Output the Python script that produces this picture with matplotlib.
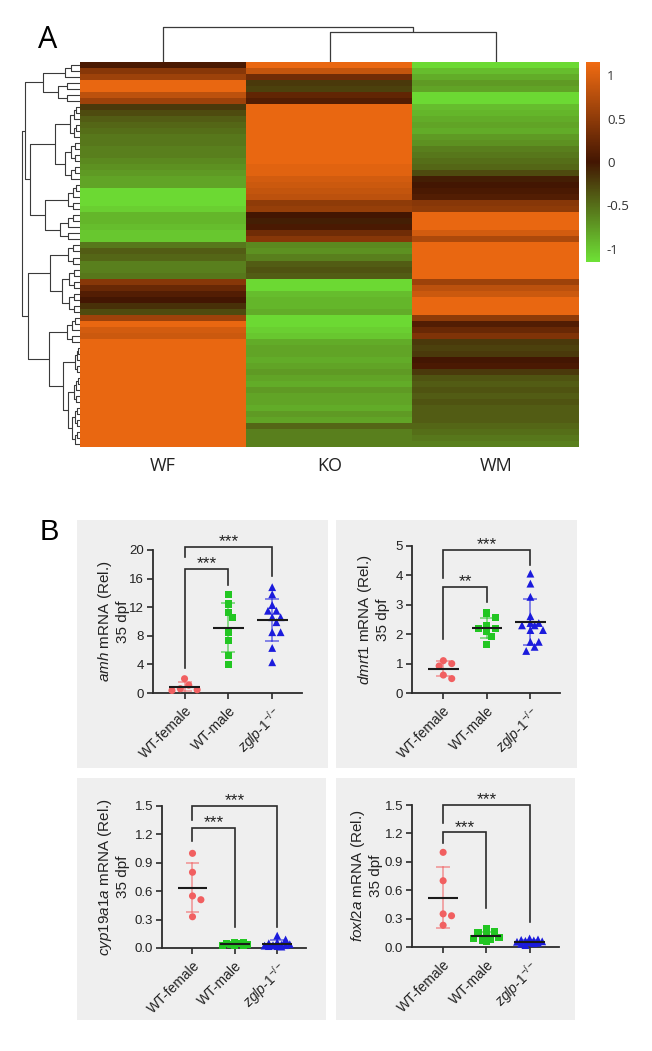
import numpy as np
import matplotlib
matplotlib.use("Agg")
import matplotlib.pyplot as plt
from matplotlib.colors import LinearSegmentedColormap
from matplotlib.patches import Rectangle

plt.rcParams['font.family'] = ['Liberation Sans', 'DejaVu Sans']
plt.rcParams['mathtext.fontset'] = 'custom'
plt.rcParams['mathtext.it'] = 'Liberation Sans:italic'
plt.rcParams['mathtext.rm'] = 'Liberation Sans'
plt.rcParams['axes.unicode_minus'] = False

W, H = 652, 1051

# ---------------- panel A : heatmap of scaled expression ----------------
samples = ["WF", "KO", "WM"]

wf = [0.05, 0.45, 0.6, 1.1, 1.1, 0.8, 0.6,
      -0.2, -0.3, -0.4, -0.45, -0.5, -0.55, -0.55, -0.6, -0.6, -0.65, -0.7, -0.75, -0.8,
      -0.8, -1.1, -1.1, -1.1, -1.05, -0.9, -0.9, -0.95, -1.0, -1.0,
      -0.55, -0.4, -0.45, -0.6, -0.6, -0.55,
      0.45, 0.25, 0.1, 0.0, -0.15, -0.3,
      0.6, 1.1, 0.95, 0.9,
      1.1, 1.1, 1.1, 1.1, 1.1, 1.1, 1.1, 1.1, 1.1, 1.1, 1.1, 1.1, 1.1, 1.1, 1.1, 1.1, 1.1, 1.1]
ko = [1.1, 0.85, 0.3, -0.2, -0.25, 0.2, 0.1,
      1.1, 1.1, 1.1, 1.1, 1.1, 1.1, 1.1, 1.1, 1.1, 1.1, 1.05, 1.05, 0.95,
      0.9, 0.85, 0.8, 0.5, 0.55, 0.0, -0.05, 0.05, 0.3, 0.45,
      -0.65, -0.7, -0.6, -0.4, -0.35, -0.4,
      -1.1, -1.1, -0.95, -0.9, -0.9, -0.85,
      -1.1, -1.1, -1.05, -1.0,
      -0.85, -0.8, -0.8, -0.85, -0.8, -0.75, -0.8, -0.85, -0.75, -0.8, -0.8, -0.85, -0.75, -0.8,
      -0.45, -0.6, -0.6, -0.6]
wm = [-1.1, -0.95, -0.85, -0.75, -0.8, -1.1, -1.1,
      -0.95, -0.9, -0.85, -0.8, -0.85, -0.75, -0.7, -0.6, -0.55, -0.5, -0.45, -0.3, -0.05,
      0.0, 0.05, 0.1, 0.45, 0.5, 1.1, 1.1, 1.1, 0.95, 0.7,
      1.1, 1.1, 1.1, 1.1, 1.1, 1.1,
      0.6, 0.8, 0.9, 1.1, 1.1, 1.1,
      0.5, 0.1, 0.25, 0.4,
      -0.2, -0.25, -0.2, 0.0, 0.05, -0.2, -0.35, -0.4, -0.35, -0.4, -0.35, -0.4, -0.4, -0.4,
      -0.45, -0.5, -0.55, -0.6]

cbar_ticks = [-1, -0.5, 0, 0.5, 1]
cbar_labels = ["-1", "-0.5", "0", "0.5", "1"]

# clustering trees, heights in pixels from the heatmap edge
# [height, left, right]; int = single column; (first, last, h) = tight block of rows
col_tree = [35, 0, [30, 1, 2]]
row_tree = [58,
            [55,
             [37, (0, 2, 15), (3, 6, 22)],
             [50,
              [25, (7, 12, 10), (13, 19, 15)],
              [35, (20, 24, 12), (25, 29, 20)]]],
            [52,
             [30, (30, 33, 12), (34, 41, 18)],
             [31, (42, 46, 13),
              [17, (47, 51, 5), [12, (52, 56, 6), (57, 63, 8)]]]]]

# ---------------- panel B : qPCR, 35 dpf ----------------
groups = ["WT-female", "WT-male", r"$\it{zglp}$-$\it{1}^{-/-}$"]

amh_wtf = [2.0, 1.1, 0.6, 0.45, 0.35]
amh_wtm = [13.8, 12.45, 11.3, 10.6, 8.4, 7.4, 5.3, 4.0]
amh_ko = [14.8, 13.8, 12.3, 11.5, 11.5, 10.6, 10.6, 9.9, 8.5, 8.5, 6.3, 4.3]

dmrt1_wtf = [1.1, 1.0, 0.92, 0.61, 0.49]
dmrt1_wtm = [2.72, 2.56, 2.3, 2.2, 2.2, 2.1, 1.93, 1.64]
dmrt1_ko = [4.06, 3.72, 3.27, 2.61, 2.38, 2.38, 2.3, 2.3, 2.14, 2.14, 1.74, 1.74, 1.57, 1.43]

cyp_wtf = [1.0, 0.8, 0.55, 0.51, 0.33]
cyp_wtm = [0.06, 0.055, 0.05, 0.045, 0.04, 0.035, 0.03, 0.03, 0.025]
cyp_ko = [0.13, 0.09, 0.06, 0.05, 0.04, 0.035, 0.03, 0.03, 0.025, 0.02, 0.02, 0.015]

foxl2a_wtf = [1.0, 0.7, 0.35, 0.33, 0.23]
foxl2a_wtm = [0.2, 0.16, 0.15, 0.12, 0.1, 0.085, 0.08, 0.07, 0.055]
foxl2a_ko = [0.09, 0.08, 0.075, 0.07, 0.065, 0.06, 0.055, 0.05, 0.045, 0.04, 0.035, 0.02]

# (group a, group b, bar level, leg end a, leg end b, label)
amh_sig = [(0, 2, 20.4, 19.0, 16.4, "***"), (0, 1, 17.3, 3.5, 15.1, "***")]
dmrt1_sig = [(0, 2, 4.88, 3.9, 4.35, "***"), (0, 1, 3.6, 1.85, 3.1, "**")]
cyp_sig = [(0, 2, 1.5, 1.35, 0.22, "***"), (0, 1, 1.27, 1.13, 0.22, "***")]
foxl2a_sig = [(0, 2, 1.5, 1.31, 0.26, "***"), (0, 1, 1.21, 1.1, 0.41, "***")]

colors = ['#f15f60', '#22c622', '#1b1bdc']
markers = ['o', 's', '^']
msizes = [26, 26, 32]


def box(l, t, r, b):
    return [l / W, 1 - b / H, (r - l) / W, (b - t) / H]


def build(node, segs):
    if isinstance(node, int):
        return node + 0.5, 0.0
    if isinstance(node, tuple):
        a, b, h = node
        if a == b:
            return a + 0.5, 0.0
        m = (a + b) // 2
        node = [h, (a, m, h * 0.6), (m + 1, b, h * 0.6)]
    h, left, right = node
    p1, h1 = build(left, segs)
    p2, h2 = build(right, segs)
    segs.append(([p1, p1, p2, p2], [h1, h, h, h2]))
    return (p1 + p2) / 2, h


def swarm(ax, vals, gap=6.5, step=4.2, kmax=3):
    # simple dot-plot spreading: shift points sideways only when they overlap
    vals = np.asarray(vals, float)
    pts = ax.transData.transform(np.column_stack([np.zeros(len(vals)), vals]))
    ys = pts[:, 1]
    cat_px = ax.transData.transform([(1, 0)])[0, 0] - ax.transData.transform([(0, 0)])[0, 0]
    placed = []
    offs = np.zeros(len(vals))
    cands = [0]
    for k in range(1, kmax + 1):
        cands += [k, -k]
    for i in np.argsort(-vals, kind='stable'):
        best, best_d = 0.0, -1
        for k in cands:
            x = k * step
            d = min([np.hypot(x - px, ys[i] - py) for px, py in placed] or [1e9])
            if d >= gap:
                best = x
                break
            if d > best_d + 0.5:
                best, best_d = x, d
        placed.append((best, ys[i]))
        offs[i] = best / cat_px
    return offs


fig = plt.figure(figsize=(W / 100, H / 100), dpi=100)

# heatmap
cmap = LinearSegmentedColormap.from_list('gbo', ['#6ee136', '#431602', '#f06b12'])
ax_hm = fig.add_axes(box(80, 62, 579, 447))
mat = np.column_stack([wf, ko, wm])
im = ax_hm.imshow(mat, cmap=cmap, vmin=-1.15, vmax=1.15, aspect='auto',
                  interpolation='nearest', extent=(0, 3, len(wf), 0))
ax_hm.set_axis_off()
for i, s in enumerate(samples):
    fig.text((80 + (i + 0.5) * (579 - 80) / 3) / W, 1 - 466 / H, s, ha='center', va='center',
             fontsize=13, family='Open Sans', color='#222222')

# column dendrogram
ax_cd = fig.add_axes(box(80, 20, 579, 62))
segs = []
build(col_tree, segs)
for xs, hs in segs:
    ax_cd.plot(xs, hs, color='#3a3a3a', lw=0.9, solid_capstyle='butt')
ax_cd.set_xlim(0, 3)
ax_cd.set_ylim(0, 42)
ax_cd.set_axis_off()

# row dendrogram
ax_rd = fig.add_axes(box(15, 62, 80, 447))
segs = []
build(row_tree, segs)
for ps, hs in segs:
    ax_rd.plot(hs, ps, color='#3a3a3a', lw=0.8, solid_capstyle='butt')
ax_rd.set_xlim(65, 0)
ax_rd.set_ylim(len(wf), 0)
ax_rd.set_axis_off()

# colour key
ax_cb = fig.add_axes(box(586, 62, 600, 262))
cb = fig.colorbar(im, cax=ax_cb, ticks=cbar_ticks)
cb.outline.set_visible(False)
cb.ax.set_yticklabels(cbar_labels, family='Open Sans', fontsize=9.5, color='#333333')
cb.ax.tick_params(length=0, pad=5)

fig.text(48 / W, 1 - 40 / H, "A", fontsize=22, family='Open Sans', ha='center', va='center')
fig.text(49 / W, 1 - 532 / H, "B", fontsize=21, ha='center', va='center')

# grey panel backgrounds
for l, t, r, b in [(77, 520, 328, 768), (336, 520, 577, 768),
                   (77, 778, 326, 1020), (336, 778, 575, 1020)]:
    fig.add_artist(Rectangle((l / W, 1 - b / H), (r - l) / W, (b - t) / H,
                             transform=fig.transFigure, facecolor='#efefef',
                             edgecolor='none', zorder=-5))

panels = [
    (box(153, 550, 302, 693), [amh_wtf, amh_wtm, amh_ko], (0, 20), [0, 4, 8, 12, 16, 20], '{:.0f}',
     r"$\it{amh}$ mRNA (Rel.)", amh_sig, 113),
    (box(412, 546, 560, 693), [dmrt1_wtf, dmrt1_wtm, dmrt1_ko], (0, 5), [0, 1, 2, 3, 4, 5], '{:.0f}',
     r"$\it{dmrt1}$ mRNA (Rel.)", dmrt1_sig, 373),
    (box(162, 806, 306, 948), [cyp_wtf, cyp_wtm, cyp_ko], (0, 1.5), [0, 0.3, 0.6, 0.9, 1.2, 1.5], '{:.1f}',
     r"$\it{cyp19a1a}$ mRNA (Rel.)", cyp_sig, 113),
    (box(412, 805, 559, 947), [foxl2a_wtf, foxl2a_wtm, foxl2a_ko], (0, 1.5), [0, 0.3, 0.6, 0.9, 1.2, 1.5], '{:.1f}',
     r"$\it{foxl2a}$ mRNA (Rel.)", foxl2a_sig, 366),
]

for rect, data, ylim, yticks, fmt, ylab, sig, lab_x in panels:
    ax = fig.add_axes(rect)
    ax.set_facecolor('none')
    ax.set_xlim(-0.72, 2.68)
    ax.set_ylim(*ylim)
    for s in ('top', 'right'):
        ax.spines[s].set_visible(False)
    for s in ('left', 'bottom'):
        ax.spines[s].set_linewidth(1.3)
        ax.spines[s].set_color('#2b2b2b')
    ax.set_yticks(yticks)
    ax.set_yticklabels([fmt.format(v) for v in yticks])
    ax.set_xticks([0, 1, 2])
    ax.set_xticklabels(groups, rotation=45, ha='right', va='top', rotation_mode='anchor')
    ax.tick_params(axis='y', length=4.5, width=1.2, color='#2b2b2b', labelsize=9.5,
                   labelcolor='#222222', pad=2)
    ax.tick_params(axis='x', length=4.5, width=1.2, color='#2b2b2b', labelsize=10,
                   labelcolor='#222222', pad=3)

    for g, vals in enumerate(data):
        offs = swarm(ax, vals)
        ax.scatter(g + offs, vals, s=msizes[g], marker=markers[g], color=colors[g],
                   edgecolors='none', zorder=3, clip_on=False)
        m = np.mean(vals)
        sd = np.std(vals, ddof=1)
        ax.plot([g, g], [m - sd, m + sd], color=colors[g], alpha=0.6, lw=1.2, zorder=2)
        ax.hlines([m - sd, m + sd], g - 0.16, g + 0.16, color=colors[g], alpha=0.6, lw=1.2, zorder=2)
        ax.hlines(m, g - 0.35, g + 0.35, color='#1a1a1a', lw=1.5, zorder=4)

    for a, b, lev, ea, eb, txt in sig:
        ax.plot([a, a, b, b], [ea, lev, lev, eb], color='#2b2b2b', lw=1.2, clip_on=False,
                solid_joinstyle='miter')
        ax.annotate(txt, xy=((a + b) / 2, lev), xytext=(0, 0.5), textcoords='offset points',
                    ha='center', va='baseline', fontsize=12.5, color='#222222',
                    annotation_clip=False)

    # two-line y label
    yb = ax.get_position()
    fig.text(lab_x / W, yb.y0 + yb.height / 2, ylab + "\n35 dpf", rotation=90,
             ha='center', va='center', rotation_mode='anchor', multialignment='center',
             fontsize=11, linespacing=1.1, color='#222222')

fig.savefig('out.png', dpi=100)
